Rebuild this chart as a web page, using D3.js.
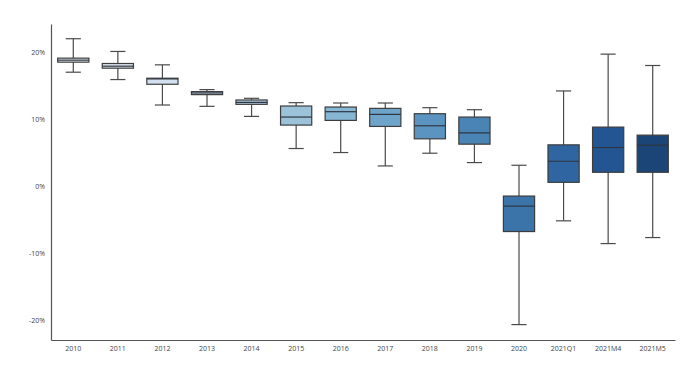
<!DOCTYPE html>
<html lang="en">
<head>
  <meta charset="utf-8">
  <title>Boxplot</title>
  <script src="https://cdn.jsdelivr.net/npm/d3@7"></script>
  <style>
    body {margin:0; background:#fff;}
    text {font-family:"Open Sans", sans-serif;}
  </style>
</head>
<body>
<svg id="chart" width="693" height="368"></svg>
<script>

// data (percent)
var categories = ["2010","2011","2012","2013","2014","2015","2016","2017","2018","2019","2020","2021Q1","2021M4","2021M5"];
var whiskerLow  = [17.0, 15.9, 12.1, 11.9, 10.4, 5.6, 5.0, 3.0, 4.9, 3.5, -20.7, -5.2, -8.6, -7.7];
var q1          = [18.5, 17.6, 15.2, 13.65, 12.2, 9.1, 9.8, 8.9, 7.05, 6.25, -6.8, 0.55, 2.05, 2.05];
var medians     = [18.8, 17.9, 16.0, 13.9, 12.5, 10.3, 11.1, 10.7, 9.0, 7.95, -3.0, 3.7, 5.75, 6.1];
var q3          = [19.1, 18.3, 16.1, 14.1, 12.85, 11.95, 11.8, 11.6, 10.8, 10.3, -1.5, 6.15, 8.8, 7.6];
var whiskerHigh = [22.0, 20.1, 18.1, 14.4, 13.1, 12.45, 12.4, 12.4, 11.7, 11.4, 3.1, 14.2, 19.7, 18.0];
var yTicks = [-20, -10, 0, 10, 20];
var colors = ["#e8edf3","#dde6ef","#d2e0ef","#c4d7ea","#b2cce3","#9cc2da","#87b5d4","#6fa4ca","#5b94c0","#4a84b5","#3b74a9","#2f65a0","#235593","#1c4577"];

var svg = d3.select('#chart');

var x = d3.scaleBand()
  .domain(categories)
  .range([51, 675])
  .padding(0);

var y = d3.scaleLinear()
  .domain([-23, 24.2])
  .range([340, 24]);

var boxW = x.bandwidth() * 0.7,
    capW = x.bandwidth() * 0.34;

// axes
var yAxis = d3.axisLeft(y).tickValues(yTicks).tickSize(0).tickPadding(6)
  .tickFormat(function(d) { return d + "%"; });
var gy = svg.append('g').attr('transform', 'translate(51,0)').call(yAxis);
gy.select('.domain').attr('stroke', '#555').attr('stroke-width', 1.2);
gy.selectAll('text').attr('fill', '#444').attr('font-size', '7px');

var xAxis = d3.axisBottom(x).tickSize(0).tickPadding(6);
var gx = svg.append('g').attr('transform', 'translate(0,340)').call(xAxis);
gx.select('.domain').attr('stroke', '#555').attr('stroke-width', 1.2);
gx.selectAll('text').attr('fill', '#444').attr('font-size', '7px');

// boxes
var boxes = svg.append('g').selectAll('g')
  .data(categories)
  .enter().append('g');

boxes.append('line')
  .attr('x1', function(d) { return x(d) + x.bandwidth()/2; })
  .attr('x2', function(d) { return x(d) + x.bandwidth()/2; })
  .attr('y1', function(d, i) { return y(whiskerHigh[i]); })
  .attr('y2', function(d, i) { return y(whiskerLow[i]); })
  .attr('stroke', '#4a4a4a').attr('stroke-width', 1.2);

boxes.selectAll('line.cap')
  .data(function(d, i) { return [[d, whiskerHigh[i]], [d, whiskerLow[i]]]; })
  .enter().append('line')
  .attr('class', 'cap')
  .attr('x1', function(d) { return x(d[0]) + x.bandwidth()/2 - capW/2; })
  .attr('x2', function(d) { return x(d[0]) + x.bandwidth()/2 + capW/2; })
  .attr('y1', function(d) { return y(d[1]); })
  .attr('y2', function(d) { return y(d[1]); })
  .attr('stroke', '#4a4a4a').attr('stroke-width', 1.2);

boxes.append('rect')
  .attr('x', function(d) { return x(d) + (x.bandwidth() - boxW)/2; })
  .attr('width', boxW)
  .attr('y', function(d, i) { return y(q3[i]); })
  .attr('height', function(d, i) { return y(q1[i]) - y(q3[i]); })
  .attr('fill', function(d, i) { return colors[i]; })
  .attr('stroke', '#3d3d3d').attr('stroke-width', 1.2);

boxes.append('line')
  .attr('x1', function(d) { return x(d) + (x.bandwidth() - boxW)/2; })
  .attr('x2', function(d) { return x(d) + (x.bandwidth() + boxW)/2; })
  .attr('y1', function(d, i) { return y(medians[i]); })
  .attr('y2', function(d, i) { return y(medians[i]); })
  .attr('stroke', '#2f3640').attr('stroke-width', 1.2);

</script>
</body>
</html>
